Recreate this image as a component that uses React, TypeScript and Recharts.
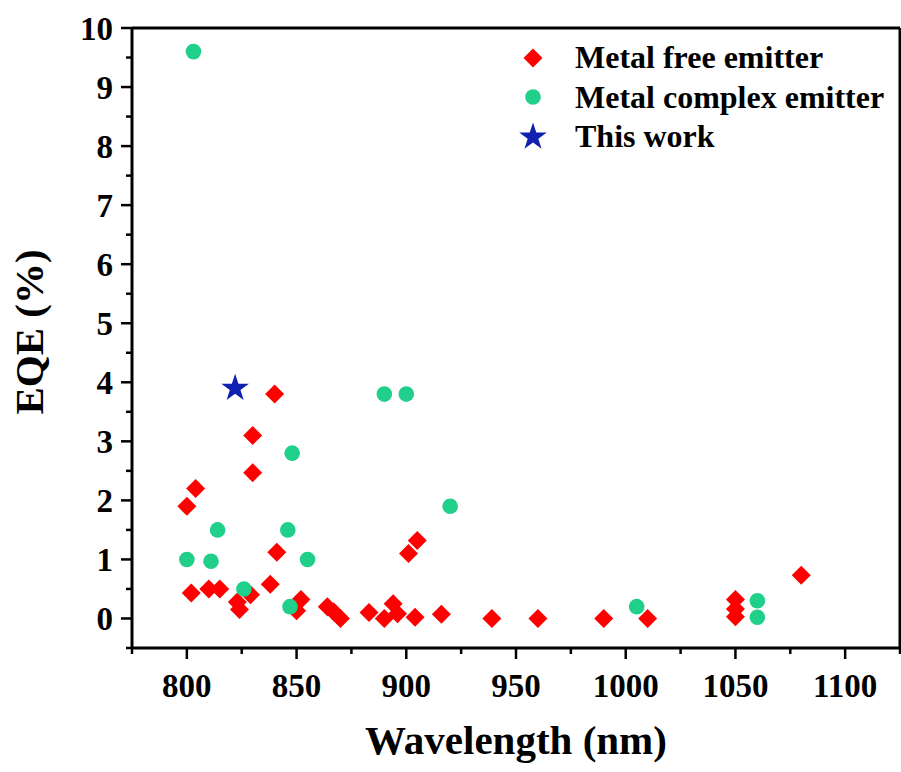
import { ScatterChart, Scatter, XAxis, YAxis, ReferenceLine, Legend } from "recharts"

// metal free emitters (red diamonds)
const freeWavelength = [
  800, 802, 804, 810, 815, 823, 824, 829, 830, 830, 838, 840, 841, 850, 852, 864, 867,
  870, 883, 890, 894, 896, 901, 904, 905, 916, 939, 960, 990, 1010, 1050, 1050, 1050, 1080,
]
const freeEqe = [
  1.9, 0.43, 2.2, 0.5, 0.5, 0.28, 0.15, 0.4, 3.1, 2.47, 0.58, 3.8, 1.12, 0.13, 0.32, 0.2, 0.11,
  0.0, 0.1, 0.0, 0.25, 0.08, 1.1, 0.02, 1.32, 0.07, 0.0, 0.0, 0.0, 0.0, 0.32, 0.16, 0.03, 0.73,
]

// metal complex emitters (green circles)
const complexWavelength = [800, 803, 811, 814, 826, 846, 847, 848, 855, 890, 900, 920, 1005, 1060, 1060]
const complexEqe = [1.0, 9.6, 0.97, 1.5, 0.5, 1.5, 0.2, 2.8, 1.0, 3.8, 3.8, 1.9, 0.2, 0.3, 0.02]

// this work (blue star)
const thisWavelength = [822]
const thisEqe = [3.9]

const xTicks = [775, 800, 825, 850, 875, 900, 925, 950, 975, 1000, 1025, 1050, 1075, 1100, 1125]
const xLabels = [800, 850, 900, 950, 1000, 1050, 1100]
const yTicks = [
  -0.5, 0, 0.5, 1, 1.5, 2, 2.5, 3, 3.5, 4, 4.5, 5, 5.5, 6, 6.5, 7, 7.5, 8, 8.5, 9, 9.5, 10,
]
const yLabels = [0, 1, 2, 3, 4, 5, 6, 7, 8, 9, 10]

const seriesNames = ["Metal free emitter", "Metal complex emitter", "This work"]

const RED = "#ff0000"
const GREEN = "#1fcf8a"
const BLUE = "#1020b0"
const FONT = '"Liberation Serif", "Times New Roman", serif'

const zip = (xs: number[], ys: number[]) => xs.map((x, i) => ({ x, y: ys[i] }))
const freeData = zip(freeWavelength, freeEqe)
const complexData = zip(complexWavelength, complexEqe)
const thisData = zip(thisWavelength, thisEqe)

function starPoints(cx: number, cy: number, R: number, r: number) {
  const pts: string[] = []
  for (let i = 0; i < 10; i++) {
    const rad = i % 2 === 0 ? R : r
    const a = -Math.PI / 2 + (i * Math.PI) / 5
    pts.push(`${cx + rad * Math.cos(a)},${cy + rad * Math.sin(a)}`)
  }
  return pts.join(" ")
}

const Diamond = ({ cx, cy }: any) => {
  const r = 9.5
  return (
    <polygon
      points={`${cx},${cy - r} ${cx + r},${cy} ${cx},${cy + r} ${cx - r},${cy}`}
      fill={RED}
    />
  )
}
const Dot = ({ cx, cy }: any) => <circle cx={cx} cy={cy} r={7.8} fill={GREEN} />
const Star = ({ cx, cy }: any) => <polygon points={starPoints(cx, cy, 14.5, 5.6)} fill={BLUE} />

const symbols = [Diamond, Dot, Star]

function XTick({ x, y, payload }: any) {
  const v = payload.value
  const major = xLabels.includes(v)
  return (
    <g>
      <line x1={x} y1={y} x2={x} y2={y + (major ? 11 : 6)} stroke="#000" strokeWidth={2.5} />
      {major && (
        <text x={x} y={y + 49} textAnchor="middle" fontFamily={FONT} fontWeight="bold" fontSize={33} fill="#000">
          {v}
        </text>
      )}
    </g>
  )
}

function YTick({ x, y, payload }: any) {
  const v = payload.value
  const major = yLabels.includes(v)
  return (
    <g>
      <line x1={x} y1={y} x2={x - (major ? 11 : 6)} y2={y} stroke="#000" strokeWidth={2.5} />
      {major && (
        <text x={x - 19} y={y} dy="0.36em" textAnchor="end" fontFamily={FONT} fontWeight="bold" fontSize={33} fill="#000">
          {v}
        </text>
      )}
    </g>
  )
}

function LegendBox() {
  return (
    <div style={{ fontFamily: FONT, fontWeight: "bold", fontSize: 32, color: "#000" }}>
      {seriesNames.map((name, i) => {
        const Sym = symbols[i]
        return (
          <div key={name} style={{ display: "flex", alignItems: "center", height: 39.5 }}>
            <svg width={30} height={30} style={{ display: "block" }}>
              <Sym cx={15} cy={15} />
            </svg>
            <span style={{ marginLeft: 27, whiteSpace: "nowrap" }}>{name}</span>
          </div>
        )
      })}
    </div>
  )
}

export default function App() {
  return (
    <div style={{ position: "absolute", left: 0, top: 0, width: 901, height: 772, background: "#fff" }}>
      <ScatterChart width={901} height={772} margin={{ top: 28, right: 1, bottom: 0, left: 0 }}>
        <XAxis
          type="number"
          dataKey="x"
          domain={[775, 1125]}
          ticks={xTicks}
          interval={0}
          height={124}
          tickSize={0}
          tickMargin={0}
          tickLine={false}
          axisLine={{ stroke: "#000", strokeWidth: 3 }}
          tick={(p: any) => <XTick {...p} />}
          label={(p: any) => {
            const vb = p.viewBox
            return (
              <text x={vb.x + vb.width / 2} y={vb.y + 106} textAnchor="middle" fontFamily={FONT} fontWeight="bold" fontSize={41} fill="#000">
                Wavelength (nm)
              </text>
            )
          }}
        />
        <YAxis
          type="number"
          dataKey="y"
          domain={[-0.5, 10]}
          ticks={yTicks}
          interval={0}
          width={132}
          tickSize={0}
          tickMargin={0}
          tickLine={false}
          axisLine={{ stroke: "#000", strokeWidth: 3 }}
          tick={(p: any) => <YTick {...p} />}
          label={(p: any) => {
            const vb = p.viewBox
            const cx = vb.x + 43
            const cy = vb.y + vb.height / 2 - 6
            return (
              <text x={cx} y={cy} transform={`rotate(-90 ${cx} ${cy})`} textAnchor="middle" fontFamily={FONT} fontWeight="bold" fontSize={41} fill="#000">
                EQE (%)
              </text>
            )
          }}
        />
        <ReferenceLine y={10} stroke="#000" strokeWidth={3} />
        <ReferenceLine x={1125} stroke="#000" strokeWidth={3} />
        <Legend
          layout="vertical"
          align="center"
          verticalAlign="middle"
          content={() => <LegendBox />}
          wrapperStyle={{ left: 518, top: 38, width: 383 }}
        />
        <Scatter name={seriesNames[0]} data={freeData} shape={(p: any) => <Diamond {...p} />} isAnimationActive={false} />
        <Scatter name={seriesNames[1]} data={complexData} shape={(p: any) => <Dot {...p} />} isAnimationActive={false} />
        <Scatter name={seriesNames[2]} data={thisData} shape={(p: any) => <Star {...p} />} isAnimationActive={false} />
      </ScatterChart>
    </div>
  )
}
